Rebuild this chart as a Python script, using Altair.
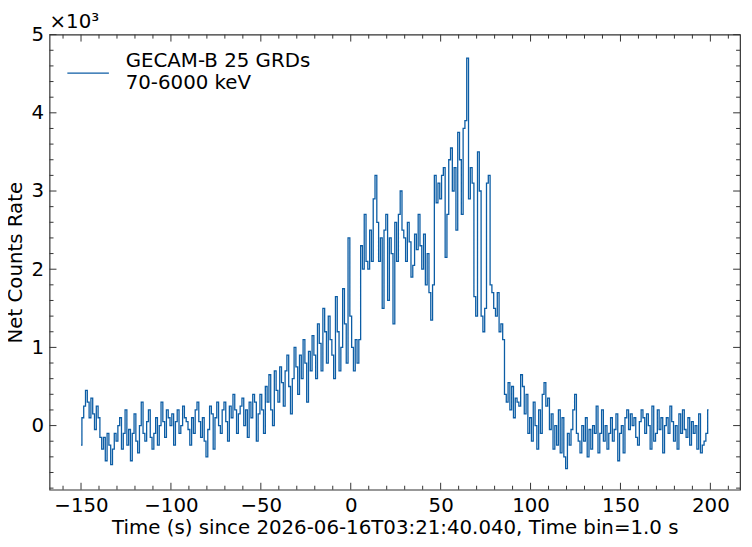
import pandas as pd
import altair as alt

# light curve, 1 s bins
t_start = -150
rate = [
    -250, 100, 250, 450, 300, 100, 350, 150, -50, 250,
    100, -150, -300, -150, -450, -100, -250, -500, -300, -100,
    -200, 0, 100, -300, -100, 200, -250, -50, -450, -100,
    150, -200, -350, 0, 300, -100, -200, 50, 200, -150,
    -300, -100, 100, -250, 0, 300, 50, -150, 200, 100,
    0, 150, -250, 50, 200, -100, 0, 250, 100, 50,
    -50, -250, 100, -100, 200, 300, 50, -150, 100, -200,
    -400, -50, 250, 150, -300, 100, 300, 0, -100, 200,
    300, 50, -200, 250, 100, 400, 200, -100, 150, 250,
    350, 0, 200, -150, 300, 100, 400, 300, -200, 150,
    400, 200, -100, 500, 300, 650, 200, 0, 700, 450,
    300, 750, 550, 250, 700, 900, 500, 150, 600, 1000,
    750, 400, 900, 600, 1100, 800, 300, 950, 700, 1150,
    900, 600, 1300, 1050, 700, 1500, 1200, 800, 1400, 1100,
    900, 600, 1650, 1200, 700, 1000, 1750, 1300, 800, 2400,
    1400, 1000, 700, 1100, 800, 1100, 2300, 2000, 2700, 2100,
    2000, 2500, 2100, 2900, 3200, 2600, 2100, 2400, 1500, 2500,
    2700, 1600, 2400, 2200, 1300, 2600, 2100, 2700, 3000, 2500,
    2400, 2100, 2600, 2350, 1900, 2050, 2450, 2250, 2700, 2300,
    2000, 2450, 1800, 2200, 1700, 1350, 1800, 3200, 2850, 3100,
    2900, 3200, 3300, 2150, 2700, 3400, 3550, 3000, 3300, 2500,
    3750, 3400, 2700, 3800, 3900, 4700, 2900, 3300, 3100, 1650,
    1400, 3500, 3000, 1400, 1200, 1500, 3100, 3200, 1800, 1700,
    1500, 1400, 1700, 1200, 1300, 1100, 400, 300, 550, 200,
    500, 100, 350, 300, 250, 650, 500, 150, 400, -100,
    100, -200, 300, 0, -300, 200, -100, 400, 550, 250,
    350, -50, 150, -300, 0, -250, 200, -350, 100, -400,
    -550, -100, -250, -50, 200, 400, -100, -200, -350, 0,
    -200, 100, -400, -50, -300, 0, -100, 250, -350, -100,
    200, -200, 0, -300, -100, 100, -200, -50, 150, -450,
    -100, 0, -350, 100, 200, -50, 150, 0, 100, -150,
    -250, 50, 200, 100, -100, 150, 0, -300, 250, -200,
    -100, 200, -50, 100, -350, 0, 100, -100, 250, 50,
    -200, 0, -300, 150, -100, 200, -50, -150, 100, -250,
    50, -100, 0, -300, 150, -350, -250, -200, -100, 200,
]
times = [t_start + i for i in range(len(rate))]

x_major = [-150, -100, -50, 0, 50, 100, 150, 200]
x_minor = [v for v in range(-160, 220, 10) if v not in x_major]
y_major = [0, 1000, 2000, 3000, 4000, 5000]
y_minor = [v for v in range(-800, 5000, 200) if v not in y_major]

W, H = 698, 460
BLUE = '#0c5da5'
xs = alt.Scale(domain=[-167.5, 216.5], nice=False, zero=False)
ys = alt.Scale(domain=[-820, 5000], nice=False, zero=False)

df = pd.DataFrame({'t': times, 'rate': rate})

line = alt.Chart(df).mark_line(color=BLUE, strokeWidth=1.3, interpolate='step').encode(
    x=alt.X('t:Q', scale=xs,
            axis=alt.Axis(values=x_major, ticks=False, grid=False, labelFontSize=20,
                          labelPadding=6, titleFontSize=20, titleFontWeight='normal',
                          titlePadding=2, domain=False),
            title='Time (s) since 2026-06-16T03:21:40.040, Time bin=1.0 s'),
    y=alt.Y('rate:Q', scale=ys,
            axis=alt.Axis(values=y_major, ticks=False, grid=False, labelFontSize=20,
                          labelExpr='datum.value / 1000', labelPadding=6,
                          titleFontSize=20, titleFontWeight='normal', titlePadding=6,
                          domain=False),
            title='Net Counts Rate'),
)

# inward ticks on all four sides
def xticks(vals, length):
    d = pd.DataFrame({'v': vals})
    b = alt.Chart(d).mark_rule(color='#333', strokeWidth=1).encode(
        x=alt.X('v:Q', scale=xs), y=alt.value(H), y2=alt.value(H - length))
    t = alt.Chart(d).mark_rule(color='#333', strokeWidth=1).encode(
        x=alt.X('v:Q', scale=xs), y=alt.value(0), y2=alt.value(length))
    return b + t

def yticks(vals, length):
    d = pd.DataFrame({'v': vals})
    l = alt.Chart(d).mark_rule(color='#333', strokeWidth=1).encode(
        y=alt.Y('v:Q', scale=ys), x=alt.value(0), x2=alt.value(length))
    r = alt.Chart(d).mark_rule(color='#333', strokeWidth=1).encode(
        y=alt.Y('v:Q', scale=ys), x=alt.value(W), x2=alt.value(W - length))
    return l + r

ticks = xticks(x_major, 7) + xticks(x_minor, 4) + yticks(y_major, 7) + yticks(y_minor, 4)

def label(s, x, y, size=20):
    return alt.Chart(pd.DataFrame({'s': [s]})).mark_text(
        align='left', baseline='middle', fontSize=size, font='DejaVu Sans').encode(
        x=alt.value(x), y=alt.value(y), text='s:N')

exp_text = label('×10³', 0, -13)
leg_line = alt.Chart(pd.DataFrame({'a': [0]})).mark_rule(color=BLUE, strokeWidth=1.3).encode(
    x=alt.value(18), x2=alt.value(60), y=alt.value(39))
leg_text = label('GECAM-B 25 GRDs', 77, 27) + label('70-6000 keV', 77, 49)

chart = alt.layer(line, ticks, exp_text, leg_line, leg_text).properties(
    width=W, height=H,
    autosize=alt.AutoSizeParams(type='none'),
    padding={'left': 42, 'top': 24, 'right': 4, 'bottom': 55},
).configure_view(stroke='#333', strokeWidth=1.2).configure_axis(
    labelColor='black', titleColor='black', labelFont='DejaVu Sans', titleFont='DejaVu Sans'
)

chart.save('out.html', embed_options={'renderer': 'svg', 'actions': False})
